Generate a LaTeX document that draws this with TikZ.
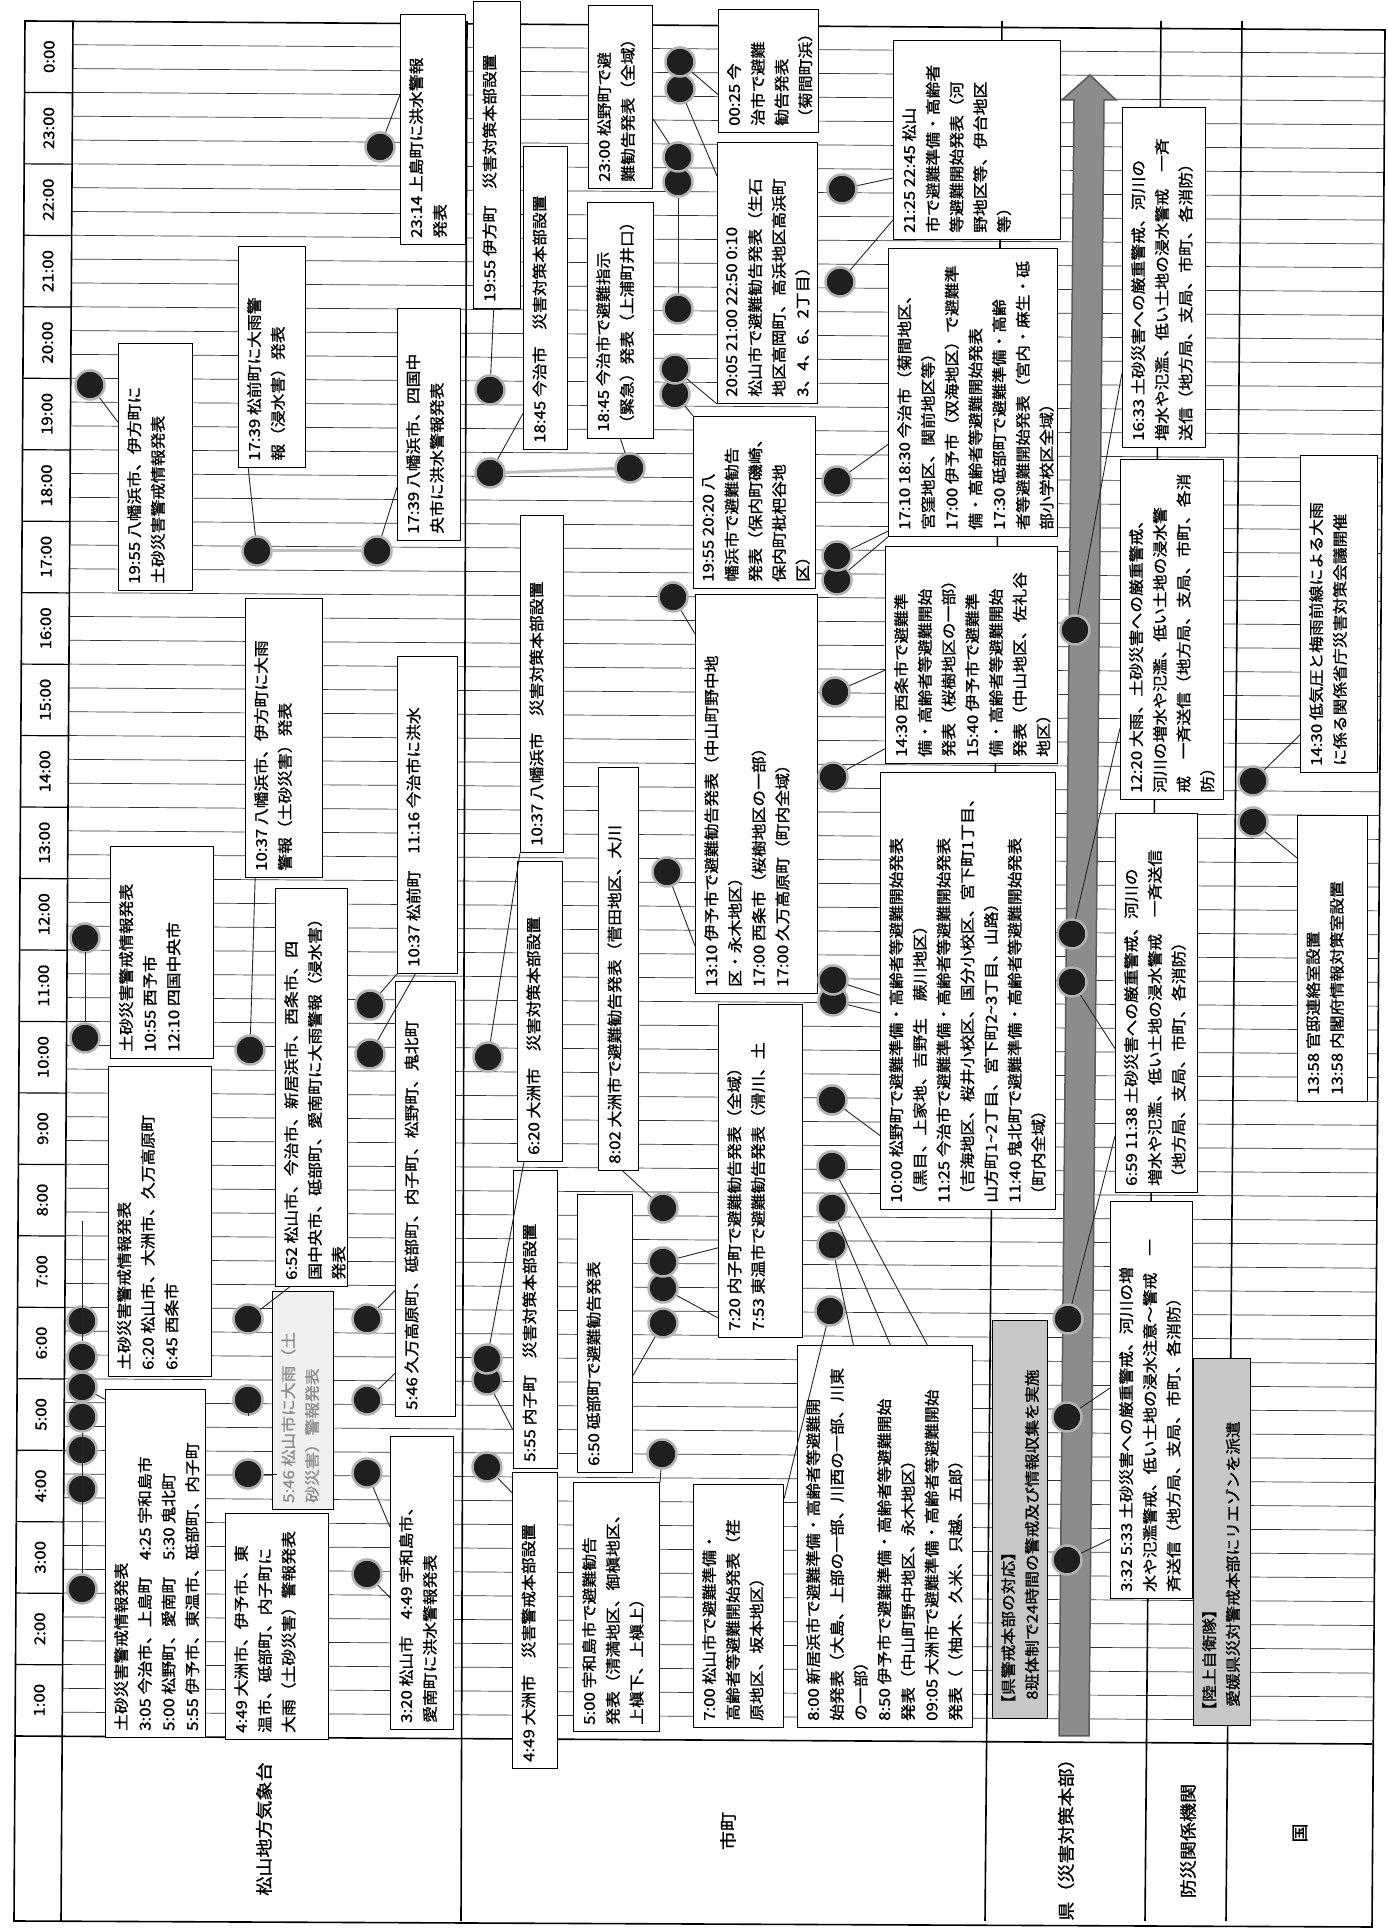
\documentclass[tikz,border=0pt]{standalone}
\usepackage{fontspec}
\setmainfont{Noto Sans CJK JP}[FakeStretch=1.12,FakeBold=1.2]
\usetikzlibrary{calc}
\tikzset{
  evbox/.style={rectangle,draw=black,line width=1.1pt,fill=white,inner sep=0pt},
  evtext/.style={inner sep=0pt,align=left,font=\fontsize{15}{23.7}\selectfont,
                 execute at begin node={\rule{0pt}{13pt}}},
  evdot/.style={circle,fill=black!88,draw=black!30,line width=2.5pt,
                minimum size=29pt,inner sep=0pt},
  conn/.style={black!85,line width=0.9pt},
  gridline/.style={black!80,line width=0.7pt},
  hourline/.style={black,line width=1.2pt},
  rowline/.style={black,line width=1.6pt},
  guide/.style={black!25,line width=3pt},
  hdr/.style={font=\fontsize{17}{20}\selectfont},
  timelbl/.style={font=\fontsize{15}{18}\selectfont},
  timebar/.style={fill=black!45,draw=black!65,line width=1.5pt},
}
% box: [style]{name}{u1}{v1}{u2}{v2}{text}
\newcommand{\notebox}[7][]{%
  \node[evbox,#1,anchor=north west,minimum width={#5-#3},minimum height={#6-#4}] (#2) at (#3,-#4) {};
  \node[evtext,#1,draw=none,anchor=north west] (#2t) at ({#3+7},{-#4-9}) {#7};}

\begin{document}
\begin{tikzpicture}[x=1pt,y=1pt]
\useasboundingbox (0,0) rectangle (1387,1929);
\fill[white] (0,0) rectangle (1387,1929);
\begin{scope}[rotate=90,transform shape]
% grid
\foreach \k in {1,...,71} {
  \pgfmathsetmacro{\uk}{193+\k*23.82}
  \draw[gridline] (\uk,{-(61+0.0063*\uk)}) -- ({\uk-8.6},{-(1372+0.0068*\uk)});
}
\foreach \k in {1,...,23} {
  \pgfmathsetmacro{\uk}{193+\k*71.46}
  \draw[hourline] (\uk,{-(14+0.0058*\uk)}) -- ({\uk-0.3},{-(61+0.0063*\uk)});
}
\foreach \h in {1,...,24} {
  \pgfmathtruncatemacro{\hh}{mod(\h,24)}
  \pgfmathsetmacro{\uc}{193+(\h-0.5)*71.46}
  \node[timelbl] (t\h) at (\uc,{-(38+0.006*\uc)}) {\hh:00};
}
% frame and rows
\draw[rowline] (8,-14) -- (1908,-25) -- (1899,-1385) -- (2,-1372) -- cycle;
\draw[rowline] (193,-14) -- (185,-1372);
\draw[rowline] (8,-61) -- (1908,-73);
\draw[rowline] (8,-461) -- (1908,-467);
\draw[rowline] (8,-985) -- (1908,-1002);
\draw[rowline] (8,-1145) -- (1908,-1161);
\draw[rowline] (8,-1226) -- (1908,-1242);
\node[hdr] (rowJMA) at (100,-264) {松山地方気象台};
\node[hdr] (rowCity) at (98,-728) {市町};
\node[hdr] (rowPref) at (94,-1066) {県（災害対策本部）};
\node[hdr] (rowOrg) at (88,-1188) {防災関係機関};
\node[hdr] (rowGov) at (96,-1300) {国};
% prefecture time bar
\filldraw[timebar] (193,-1059) -- (1829,-1074) -- (1829,-1062) -- (1854,-1090)
  -- (1829,-1116) -- (1829,-1104) -- (193,-1089) -- cycle;

% weather office
\notebox{jmaA}{191}{105}{539}{205}{土砂災害警戒情報発表\\3:05 今治市、上島町　4:25 宇和島市\\5:00 松野町、愛南町　5:30 鬼北町\\5:55 伊予市、東温市、砥部町、内子町}
\notebox{jmaB}{552}{108}{862}{211}{土砂災害警戒情報発表\\6:20 松山市、大洲市、久万高原町\\6:45 西条市}
\notebox{jmaC}{189}{225}{415}{328}{4:49 大洲市、伊予市、東\\温市、砥部町、内子町に\\大雨（土砂災害）警報発表}
\notebox[fill=black!6,text=black!45]{jmaD}{419}{272}{637}{333}{5:46 松山市に大雨（土\\砂災害）警報発表}
\notebox{jmaE}{199}{390}{492}{453}{3:20 松山市　4:49 宇和島市、\\愛南町に洪水警報発表}
\notebox{jmaF}{512}{395}{947}{455}{5:46 久万高原町、砥部町、内子町、松野町、鬼北町}
\notebox{jmaG}{955}{397}{1272}{457}{10:37 松前町　11:16 今治市に洪水}
\notebox{jmaH}{642}{275}{1040}{347}{6:52 松山市、今治市、新居浜市、西条市、四\\国中央市、砥部町、愛南町に大雨警報（浸水害）\\発表}
\notebox{jmaI}{870}{110}{1082}{213}{土砂災害警戒情報発表\\10:55 西予市\\12:10 四国中央市}
\notebox{jmaJ}{1051}{245}{1330}{322}{10:37 八幡浜市、伊方町に大雨\\警報（土砂災害）発表}
\notebox{jmaK}{1338}{118}{1585}{192}{19:55 八幡浜市、伊方町に\\土砂災害警戒情報発表}
\notebox{jmaL}{1461}{238}{1682}{305}{17:39 松前町に大雨警\\報（浸水害）発表}
\notebox{jmaM}{1388}{397}{1620}{460}{17:39 八幡浜市、四国中\\央市に洪水警報発表}
\notebox{jmaN}{1684}{400}{1914}{465}{23:14 上島町に洪水警報\\発表}

% cities and towns
\notebox{cityO}{1620}{473}{1927}{520}{19:55 伊方町　災害対策本部設置}
\notebox{cityP}{1479}{523}{1782}{567}{18:45 今治市　災害対策本部設置}
\notebox{cityQ}{1076}{520}{1413}{563}{10:37 八幡浜市　災害対策本部設置}
\notebox{cityR}{767}{517}{1067}{562}{6:20 大洲市　災害対策本部設置}
\notebox{cityS}{460}{513}{758}{557}{5:55 内子町　災害対策本部設置}
\notebox{cityT}{160}{512}{456}{557}{4:49 大洲市　災害警戒本部設置}
\notebox{cityU}{456}{577}{734}{632}{6:50 砥部町で避難勧告発表}
\notebox{cityV}{197}{573}{446}{659}{5:00 宇和島市で避難勧告\\発表（清満地区、御槇地区、\\上槇下、上槇上）}
\notebox{cityW}{201}{693}{444}{783}{7:00 松山市で避難準備・\\高齢者等避難開始発表（荏\\原地区、坂本地区）}
\notebox{cityX}{201}{797}{583}{972}{8:00 新居浜市で避難準備・高齢者等避難開\\始発表（大島、上部の一部、川西の一部、川東\\の一部）\\8:50 伊予市で避難準備・高齢者等避難開始\\発表（中山町野中地区、永木地区）\\09:05 大洲市で避難準備・高齢者等避難開始\\発表（（柚木、久米、只越、五郎）}
\notebox{cityY}{591}{718}{924}{802}{7:20 内子町で避難勧告発表（全域）\\7:53 東温市で避難勧告発表（滑川、土}
\notebox{cityAA}{758}{598}{1161}{638}{8:02 大洲市で避難勧告発表（菅田地区、大川}
\notebox{cityAB}{935}{695}{1334}{817}{13:10 伊予市で避難勧告発表（中山町野中地\\区・永木地区）\\17:00 西条市（桜樹地区の一部）\\17:00 久万高原町（町内全域）}
\notebox{cityAC}{1340}{693}{1512}{815}{19:55 20:20 八\\幡浜市で避難勧告\\発表（保内町磯崎、\\保内町枇杷谷地\\区）}
\notebox{cityAD}{1490}{587}{1726}{653}{18:45 今治市で避難指示\\（緊急）発表（上浦町井口）}
\notebox{cityAE}{1740}{588}{1923}{652}{23:00 松野町で避\\難勧告発表（全域）}
\notebox{cityAF}{1796}{718}{1919}{818}{00:25 今\\治市で避難\\勧告発表\\（菊間町浜）}
\notebox{cityAG}{1525}{717}{1786}{817}{20:05 21:00 22:50 0:10\\松山市で避難勧告発表（生石\\地区高岡町、高浜地区高浜町\\3、4、6、2丁目）}
\notebox{cityAH}{1689}{893}{1888}{1060}{21:25 22:45 松山\\市で避難準備・高齢者\\等避難開始発表（河\\野地区等、伊台地区\\等）}
\notebox{cityAI}{1392}{888}{1680}{1057}{17:10 18:30 今治市（菊間地区、\\宮窪地区、関前地区等）\\17:00 伊予市（双海地区）で避難準\\備・高齢者等避難開始発表\\17:30 砥部町で避難準備・高齢\\者等避難開始発表（宮内・麻生・砥\\部小学校区全域）}
\notebox{cityAJ}{1165}{885}{1382}{1057}{14:30 西条市で避難準\\備・高齢者等避難開始\\発表（桜樹地区の一部）\\15:40 伊予市で避難準\\備・高齢者等避難開始\\発表（中山地区、佐礼谷\\地区）}
\notebox{cityZ}{719}{880}{1156}{1055}{10:00 松野町で避難準備・高齢者等避難開始発表\\（黒目、上家地、吉野生　蕨川地区）\\11:25 今治市で避難準備・高齢者等避難開始発表\\（吉海地区、桜井小校区、国分小校区、宮下町1丁目、\\山方町1\textasciitilde 2丁目、宮下町2\textasciitilde 3丁目、山路）\\11:40 鬼北町で避難準備・高齢者等避難開始発表\\（町内全域）}

% prefecture
\notebox{prefAK}{1481}{1122}{1821}{1205}{16:33 土砂災害への厳重警戒、河川の\\増水や氾濫、低い土地の浸水警戒　一斉\\送信（地方局、支局、市町、各消防）}
\notebox{prefAL}{1129}{1120}{1469}{1223}{12:20 大雨、土砂災害への厳重警戒、\\河川の増水や氾濫、低い土地の浸水警\\戒　一斉送信（地方局、支局、市町、各消\\防）}
\notebox{prefAM}{736}{1115}{1115}{1197}{6:59 11:38 土砂災害への厳重警戒、河川の\\増水や氾濫、低い土地の浸水警戒　一斉送信\\（地方局、支局、市町、各消防）}
\notebox{prefAN}{330}{1110}{727}{1192}{3:32 5:33 土砂災害への厳重警戒、河川の増\\水や氾濫警戒、低い土地の浸水注意～警戒　一\\斉送信（地方局、支局、市町、各消防）}
\notebox[fill=black!22]{prefAO}{210}{992}{608}{1047}{【県警戒本部の対応】\\\hspace*{12pt}8班体制で24時間の警戒及び情報収集を実施}
% agencies and government
\notebox[fill=black!22]{orgAP}{203}{1193}{570}{1250}{【陸上自衛隊】\\\hspace*{12pt}愛媛県災対警戒本部にリエゾンを派遣}
\notebox{govAQ}{1156}{1300}{1473}{1377}{14:30 低気圧と梅雨前線による大雨\\に係る関係省庁災害対策会議開催}
\notebox{govAR}{827}{1297}{1113}{1367}{13:58 官邸連絡室設置\\13:58 内閣府情報対策室設置}

% event dots
\node[evdot] (a1) at (340,-82) {};
\node[evdot] (a2) at (440,-82) {};
\node[evdot] (a3) at (479,-82) {};
\node[evdot] (a4) at (512,-82) {};
\node[evdot] (a5) at (542,-82) {};
\node[evdot] (a6) at (572,-82) {};
\node[evdot] (a7) at (608,-82) {};
\node[evdot] (a8) at (891,-85) {};
\node[evdot] (a9) at (991,-85) {};
\node[evdot] (a10) at (1544,-90) {};
\node[evdot] (c1) at (455,-248) {};
\node[evdot] (c2) at (529,-248) {};
\node[evdot] (c3) at (610,-248) {};
\node[evdot] (c4) at (879,-250) {};
\node[evdot] (c5) at (1378,-257) {};
\node[evdot] (e1) at (355,-367) {};
\node[evdot] (e2) at (456,-367) {};
\node[evdot] (e3) at (529,-367) {};
\node[evdot] (e4) at (610,-367) {};
\node[evdot] (e5) at (875,-370) {};
\node[evdot] (e6) at (924,-370) {};
\node[evdot] (e7) at (1378,-377) {};
\node[evdot] (e8) at (1782,-380) {};
\node[evdot] (m1) at (462,-487) {};
\node[evdot] (m2) at (549,-487) {};
\node[evdot] (m3) at (570,-487) {};
\node[evdot] (m4) at (872,-488) {};
\node[evdot] (m5) at (1456,-490) {};
\node[evdot] (m6) at (1539,-490) {};
\node[evdot] (n1) at (475,-662) {};
\node[evdot] (n2) at (606,-663) {};
\node[evdot] (n3) at (641,-663) {};
\node[evdot] (n4) at (667,-663) {};
\node[evdot] (n5) at (721,-663) {};
\node[evdot] (n6) at (1057,-667) {};
\node[evdot] (n7) at (1332,-673) {};
\node[evdot] (n8) at (1461,-630) {};
\node[evdot] (n9) at (1535,-675) {};
\node[evdot] (n10) at (1560,-675) {};
\node[evdot] (n11) at (1620,-678) {};
\node[evdot] (n12) at (1747,-678) {};
\node[evdot] (n13) at (1772,-678) {};
\node[evdot] (n14) at (1840,-680) {};
\node[evdot] (n15) at (1867,-680) {};
\node[evdot] (k1) at (618,-830) {};
\node[evdot] (k2) at (684,-832) {};
\node[evdot] (k3) at (721,-832) {};
\node[evdot] (k4) at (763,-832) {};
\node[evdot] (k5) at (829,-832) {};
\node[evdot] (k6) at (928,-833) {};
\node[evdot] (k7) at (949,-833) {};
\node[evdot] (k8) at (1152,-833) {};
\node[evdot] (k9) at (1237,-835) {};
\node[evdot] (k10) at (1349,-837) {};
\node[evdot] (k11) at (1373,-837) {};
\node[evdot] (k12) at (1448,-837) {};
\node[evdot] (k13) at (1647,-840) {};
\node[evdot] (k14) at (1740,-842) {};
\node[evdot] (p1) at (369,-1067) {};
\node[evdot] (p2) at (512,-1067) {};
\node[evdot] (p3) at (610,-1068) {};
\node[evdot] (p4) at (947,-1072) {};
\node[evdot] (p5) at (995,-1072) {};
\node[evdot] (p6) at (1299,-1075) {};
\node[evdot] (q1) at (1107,-1253) {};
\node[evdot] (q2) at (1148,-1253) {};

% connectors
\draw[conn] (a1) -- (jmaA.north |- a1);
\draw[conn] (a2) -- (jmaA.north |- a2);
\draw[conn] (a3) -- (jmaA.north |- a3);
\draw[conn] (a4) -- (jmaA.north |- a4);
\draw[conn] (a5) -- ($(jmaA.north west)!0.97!(jmaA.north east)$);
\draw[conn] (a6) -- (jmaB.north |- a6);
\draw[conn] (a7) -- (jmaB.north |- a7);
\draw[conn] (a8) -- (jmaI.north |- a8);
\draw[conn] (a9) -- (jmaI.north |- a9);
\draw[conn] (a10) -- ($(jmaK.north west)!0.68!(jmaK.north east)$);
\draw[conn] (c1) -- (c1 |- jmaC.east);
\draw[conn] (c2) -- (jmaD.north |- c2);
\draw[conn] (c3) -- ($(jmaH.north west)!0.2!(jmaH.south west)$);
\draw[conn] (c4) -- ($(jmaJ.north west)!0.13!(jmaJ.south west)$);
\draw[conn] (c5) -- ($(jmaL.north west)!0.15!(jmaL.south west)$);
\draw[conn] (e1) -- ($(jmaE.north west)!0.45!(jmaE.north east)$);
\draw[conn] (e2) -- ($(jmaE.north west)!0.69!(jmaE.north east)$);
\draw[conn] (e3) -- ($(jmaF.north west)!0.1!(jmaF.north east)$);
\draw[conn] (e4) -- ($(jmaF.north west)!0.29!(jmaF.north east)$);
\draw[conn] (e5) -- ($(jmaG.north west)!0.3!(jmaG.south west)$);
\draw[conn] (e6) -- (jmaG.north west);
\draw[conn] (e7) -- ($(jmaM.north west)!0.23!(jmaM.north east)$);
\draw[conn] (e8) -- ($(jmaN.north west)!0.65!(jmaN.north east)$);
\draw[conn] (m1) -- ($(cityT.north west)!0.93!(cityT.north east)$);
\draw[conn] (m2) -- ($(cityS.north west)!0.13!(cityS.north east)$);
\draw[conn] (m3) -- ($(cityR.north west)!0.15!(cityR.south west)$);
\draw[conn] (m4) -- (cityQ.north west);
\draw[conn] (m5) -- ($(cityP.north west)!0.12!(cityP.north east)$);
\draw[conn] (m6) -- ($(cityO.north west)!0.43!(cityO.south west)$);
\draw[conn] (n1) -- (cityV.south east);
\draw[conn] (n2) -- ($(cityU.south west)!0.35!(cityU.south east)$);
\draw[conn] (n3) -- ($(cityY.north west)!0.06!(cityY.north east)$);
\draw[conn] (n4) -- ($(cityY.north west)!0.27!(cityY.north east)$);
\draw[conn] (n5) -- ($(cityAA.north west)!0.6!(cityAA.south west)$);
\draw[conn] (n6) -- ($(cityAB.north west)!0.12!(cityAB.north east)$);
\draw[conn] (n7) -- ($(cityAB.north west)!0.9!(cityAB.north east)$);
\draw[conn] (n8) -- ($(cityAD.north west)!0.5!(cityAD.south west)$);
\draw[conn] (n9) -- (cityAC.north east);
\draw[conn] (n10) -- (cityAG.north west);
\draw[conn] (n11) -- (cityAG.north |- n11);
\draw[conn] (n12) -- (cityAG.north |- n12);
\draw[conn] (n13) -- ($(cityAE.south west)!0.38!(cityAE.south east)$);
\draw[conn] (n14) -- ($(cityAG.north west)!0.87!(cityAG.north east)$);
\draw[conn] (n15) -- ($(cityAF.north west)!0.31!(cityAF.north east)$);
\draw[conn] (k1) -- ($(cityW.south west)!0.94!(cityW.south east)$);
\draw[conn] (k2) -- ($(cityX.north east)!0.32!(cityX.south east)$);
\draw[conn] (k3) -- ($(cityX.north east)!0.53!(cityX.south east)$);
\draw[conn] (k4) -- ($(cityX.north east)!0.74!(cityX.south east)$);
\draw[conn] (k5) -- ($(cityZ.north west)!0.17!(cityZ.north east)$);
\draw[conn] (k6) -- ($(cityZ.north west)!0.45!(cityZ.north east)$);
\draw[conn] (k7) -- ($(cityZ.north west)!0.49!(cityZ.north east)$);
\draw[conn] (k8) -- ($(cityAJ.north west)!0.07!(cityAJ.north east)$);
\draw[conn] (k9) -- ($(cityAJ.north west)!0.43!(cityAJ.north east)$);
\draw[conn] (k10) -- (cityAI.north west);
\draw[conn] (k11) -- ($(cityAI.north west)!0.02!(cityAI.north east)$);
\draw[conn] (k12) -- ($(cityAI.north west)!0.32!(cityAI.north east)$);
\draw[conn] (k13) -- ($(cityAH.north west)!0.1!(cityAH.north east)$);
\draw[conn] (k14) -- ($(cityAH.north west)!0.31!(cityAH.north east)$);
\draw[conn] (p1) -- ($(prefAN.north west)!0.15!(prefAN.north east)$);
\draw[conn] (p2) -- ($(prefAN.north west)!0.53!(prefAN.north east)$);
\draw[conn] (p3) -- ($(prefAM.north west)!0.15!(prefAM.north east)$);
\draw[conn] (p4) -- ($(prefAM.north west)!0.38!(prefAM.north east)$);
\draw[conn] (p5) -- ($(prefAL.north west)!0.21!(prefAL.north east)$);
\draw[conn] (p6) -- ($(prefAK.north west)!0.22!(prefAK.north east)$);
\draw[conn] (q1) -- ($(govAR.north west)!0.85!(govAR.north east)$);
\draw[conn] (q2) -- ($(govAQ.north west)!0.12!(govAQ.north east)$);
\draw[guide] (c5) -- (e7);
\draw[guide] (m5) -- (n8);
\end{scope}
\end{tikzpicture}
\end{document}
